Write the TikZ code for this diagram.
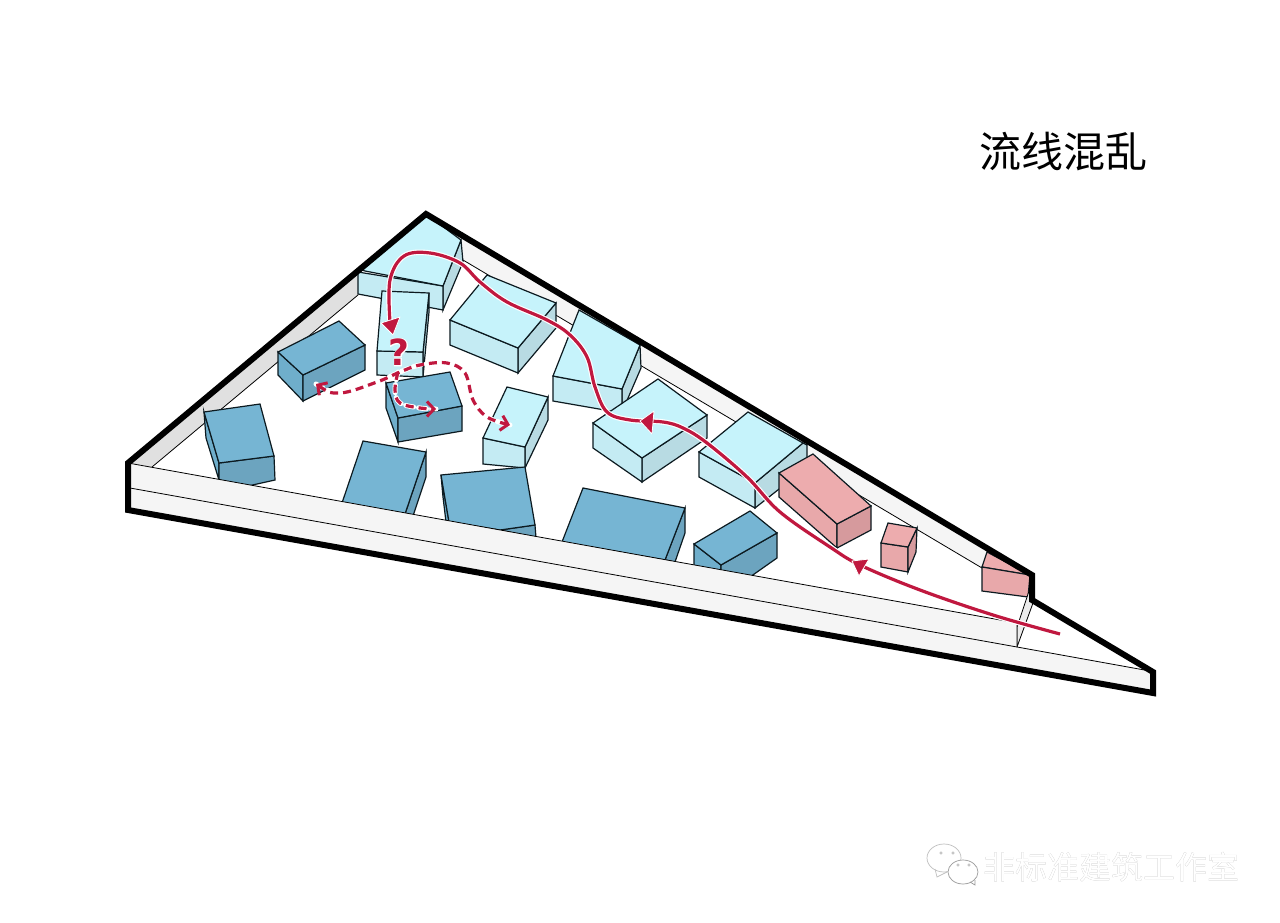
\documentclass[tikz,border=0pt]{standalone}
\usepackage{fontspec}
\usepackage{xcolor}
\usepackage{tikz}
\usetikzlibrary{arrows.meta}
\newfontfamily\cjkfont{Noto Sans CJK SC}
\setmainfont{DejaVu Sans}
\newfontfamily\halofont[FakeBold=5]{DejaVu Sans Bold}
\definecolor{lighttopc}{HTML}{C6F3FB}
\definecolor{lightfrontc}{HTML}{C4EBF3}
\definecolor{lightsidec}{HTML}{B8DBE3}
\definecolor{bluetopc}{HTML}{76B5D3}
\definecolor{bluefrontc}{HTML}{6FAECB}
\definecolor{bluesidec}{HTML}{6CA4BF}
\definecolor{pinktopc}{HTML}{EDACAE}
\definecolor{pinkfrontc}{HTML}{E8A8AA}
\definecolor{pinksidec}{HTML}{D69A9D}
\definecolor{routec}{HTML}{C0183F}
\definecolor{edgec}{HTML}{0C1A20}

\begin{document}
\begin{tikzpicture}[x=1pt, y=-1pt, line join=miter,
    face/.style={draw=edgec, line width=1.2pt},
    lighttop/.style={face, fill=lighttopc},
    lightfront/.style={face, fill=lightfrontc},
    lightside/.style={face, fill=lightsidec},
    bluetop/.style={face, fill=bluetopc},
    bluefront/.style={face, fill=bluefrontc},
    blueside/.style={face, fill=bluesidec},
    pinktop/.style={face, fill=pinktopc},
    pinkfront/.style={face, fill=pinkfrontc},
    pinkside/.style={face, fill=pinksidec},
    thinline/.style={draw=black, line width=0.8pt},
    halo/.style={draw=white, line width=5.5pt},
    route/.style={draw=routec, line width=3.2pt},
    dashhalo/.style={draw=white, line width=5pt, line cap=round, dash pattern=on 8pt off 5pt},
    dashroute/.style={draw=routec, line width=3.2pt, dash pattern=on 8pt off 5pt},
    barb/.style={-{Straight Barb[length=7pt,width=15pt,line width=3pt]}},
    twobarb/.style={{Straight Barb[length=7pt,width=15pt,line width=3pt]}-{Straight Barb[length=7pt,width=15pt,line width=3pt]}},
    headfill/.style={fill=routec, draw=white, line width=0.8pt, line join=round}]
    \useasboundingbox (0,0) rectangle (1280,923);
    \fill[white] (0,0) rectangle (1280,923);

    % draw site floor and back strips
    \fill[white] (128,463) -- (426,214) -- (1032,575) -- (1032,600) -- (1153,672) -- (1153,693) -- (128,510) -- cycle;
    \fill[fill=black!12] (128,463) -- (358,270) -- (358,295) -- (152,467) -- cycle;
    \draw[thinline] (358,295) -- (152,467);
    \fill[fill=black!4] (426,214) -- (1032,575) -- (982,568) -- (463,260) -- cycle;
    \draw[thinline] (463,260) -- (982,568);

    % draw light blue blocks
    \filldraw[lightside] (461,240) -- (463,262) -- (443,310) -- (443,286) -- cycle;
    \filldraw[lightfront] (358,272) -- (443,286) -- (443,310) -- (358,294) -- cycle;
    \filldraw[lighttop] (426,214) -- (461,240) -- (443,286) -- (365,271) -- (359,269) -- cycle;

    \filldraw[lightside] (429,293) -- (429,312) -- (423,377) -- (423,352) -- cycle;
    \filldraw[lightfront] (377,351) -- (423,352) -- (423,377) -- (377,375) -- cycle;
    \filldraw[lighttop] (382,291) -- (429,293) -- (423,352) -- (377,351) -- cycle;

    \filldraw[lightside] (556,303) -- (556,328) -- (518,373) -- (518,348) -- cycle;
    \filldraw[lightfront] (450,320) -- (518,348) -- (518,373) -- (450,345) -- cycle;
    \filldraw[lighttop] (487,275) -- (556,303) -- (518,348) -- (450,320) -- cycle;

    \filldraw[lightside] (640,345) -- (641,368) -- (622,412) -- (622,389) -- cycle;
    \filldraw[lightfront] (553,376) -- (622,389) -- (622,413) -- (553,401) -- cycle;
    \filldraw[lighttop] (579,310) -- (640,345) -- (622,389) -- (553,376) -- cycle;

    \filldraw[lightside] (707,415) -- (707,438) -- (642,482) -- (642,458) -- cycle;
    \filldraw[lightfront] (593,423) -- (642,458) -- (642,482) -- (593,448) -- cycle;
    \filldraw[lighttop] (658,379) -- (707,415) -- (642,458) -- (593,423) -- cycle;

    \filldraw[lightside] (803,443) -- (807,445) -- (807,467) -- (755,508) -- (755,483) -- cycle;
    \filldraw[lightfront] (699,452) -- (755,483) -- (755,508) -- (699,477) -- cycle;
    \filldraw[lighttop] (748,412) -- (803,443) -- (755,483) -- (699,452) -- cycle;

    \filldraw[lightside] (548,397) -- (548,420) -- (525,468) -- (525,447) -- cycle;
    \filldraw[lightfront] (483,438) -- (525,447) -- (525,468) -- (483,464) -- cycle;
    \filldraw[lighttop] (507,387) -- (548,397) -- (525,447) -- (483,438) -- cycle;

    % draw blue blocks
    \filldraw[bluefront] (278,352) -- (303,375) -- (303,401) -- (278,375) -- cycle;
    \filldraw[blueside] (365,345) -- (365,370) -- (303,401) -- (303,375) -- cycle;
    \filldraw[bluetop] (339,321) -- (365,345) -- (303,375) -- (278,352) -- cycle;

    \filldraw[bluefront] (386,383) -- (398,418) -- (398,442) -- (386,408) -- cycle;
    \filldraw[blueside] (462,406) -- (462,431) -- (398,442) -- (398,418) -- cycle;
    \filldraw[bluetop] (450,372) -- (462,406) -- (398,418) -- (386,383) -- cycle;

    \filldraw[bluefront] (204,412) -- (219,463) -- (219,480) -- (206,438) -- cycle;
    \filldraw[blueside] (219,463) -- (274,456) -- (275,480) -- (248,486) -- (219,480) -- cycle;
    \filldraw[bluetop] (260,404) -- (274,456) -- (219,463) -- (204,412) -- cycle;

    \filldraw[blueside] (426,452) -- (426,477) -- (413,516) -- (405,514) -- cycle;
    \filldraw[bluetop] (363,441) -- (426,452) -- (405,514) -- (342,503) -- cycle;

    \filldraw[bluefront] (441,475) -- (443,497) -- (446,522) -- (449,522) -- cycle;
    \filldraw[blueside] (500,530) -- (535,525) -- (536,538) -- cycle;
    \filldraw[bluetop] (441,475) -- (525,467) -- (535,525) -- (500,530) -- (449,522) -- cycle;

    \filldraw[blueside] (685,508) -- (685,533) -- (675,562) -- (665,560) -- cycle;
    \filldraw[bluetop] (583,488) -- (685,508) -- (665,560) -- (562,542) -- cycle;

    \filldraw[bluefront] (694,544) -- (721,565) -- (721,571) -- (694,566) -- cycle;
    \filldraw[blueside] (777,533) -- (777,558) -- (750,577) -- (721,571) -- (721,565) -- cycle;
    \filldraw[bluetop] (750,511) -- (777,533) -- (721,565) -- (694,544) -- cycle;

    % draw pink blocks
    \filldraw[pinkfront] (779,473) -- (837,524) -- (837,548) -- (779,497) -- cycle;
    \filldraw[pinkside] (871,506) -- (871,530) -- (837,548) -- (837,524) -- cycle;
    \filldraw[pinktop] (813,454) -- (871,506) -- (837,524) -- (779,473) -- cycle;

    \filldraw[pinkfront] (881,543) -- (908,547) -- (908,572) -- (881,567) -- cycle;
    \filldraw[pinkside] (917,528) -- (916,552) -- (908,572) -- (908,547) -- cycle;
    \filldraw[pinktop] (888,523) -- (917,528) -- (908,547) -- (881,543) -- cycle;

    \filldraw[pinktop] (987,552) -- (1030,575) -- (982,567) -- cycle;
    \filldraw[pinkfront] (982,567) -- (1030,575) -- (1028,597) -- (982,591) -- cycle;

    % draw front wall and notch wall
    \filldraw[fill=black!8, thinline] (1017,627) -- (1030,588) -- (1033,603) -- (1017,647) -- cycle;
    \fill[fill=black!4] (128,463) -- (1017,623) -- (1017,647) -- (1153,671) -- (1153,693) -- (128,510) -- cycle;
    \draw[thinline] (128,463) -- (1017,623) -- (1017,647);
    \draw[thinline] (130,488) -- (1017,647) -- (1150,671);

    % draw outer boundary
    \draw[line width=6pt] (128,463) -- (426,214) -- (1032,575) -- (1032,600) -- (1153,672) -- (1153,693) -- (128,510) -- cycle;

    % draw main route
    \draw[halo] plot[smooth, tension=0.6] coordinates {(1060,634) (993,615) (920,590) (860,565) (830,547) (780,512) (747,477) (707,443) (683,428) (663,422) (630,420) (607,412) (595,387) (587,357) (570,335) (547,320) (507,302) (480,282) (460,263) (430,253) (404,256) (390,280) (390,322)};
    \draw[route] plot[smooth, tension=0.6] coordinates {(1060,634) (993,615) (920,590) (860,565) (830,547) (780,512) (747,477) (707,443) (683,428) (663,422) (630,420) (607,412) (595,387) (587,357) (570,335) (547,320) (507,302) (480,282) (460,263) (430,253) (404,256) (390,280) (390,322)};
    \filldraw[headfill] (640,421) -- (654,411) -- (652,434) -- cycle;
    \filldraw[headfill] (852,561) -- (869,559) -- (859,576) -- cycle;
    \filldraw[headfill] (381,323) -- (400,317) -- (393,335) -- cycle;

    % draw dashed routes
    \draw[dashhalo] plot[smooth, tension=0.6] coordinates {(316,384) (340,393) (377,382) (400,372) (420,365) (447,363) (465,373) (473,400) (487,417) (510,425)};
    \draw[dashhalo] plot[smooth, tension=0.6] coordinates {(398,372) (395,390) (400,403) (420,408) (436,409)};
    \draw[dashroute, twobarb] plot[smooth, tension=0.6] coordinates {(316,384) (340,393) (377,382) (400,372) (420,365) (447,363) (465,373) (473,400) (487,417) (510,425)};
    \draw[dashroute, barb] plot[smooth, tension=0.6] coordinates {(398,372) (395,390) (400,403) (420,408) (436,409)};

    % draw question mark
    \node[text=white, font=\halofont\fontsize{36}{36}\selectfont] (questionhalo) at (399,352) {?};
    \node[text=routec, font=\fontsize{36}{36}\selectfont\bfseries] (question) at (399,352) {?};

    % draw title
    \node[font=\cjkfont\fontsize{42}{42}\selectfont, inner sep=0pt] (title) at (1063,152) {流线混乱};

    % draw watermark
    \filldraw[fill=white, draw=black!25, line width=0.7pt] (944,858) ellipse (17 and 14);
    \draw[black!25, line width=0.7pt] (935,869) -- (937,877) -- (947,872);
    \filldraw[fill=white, draw=black!40, line width=0.7pt] (963,872) ellipse (15 and 12);
    \draw[black!40, line width=0.7pt] (970,882) -- (975,885) -- (975,880);
    \foreach \eyex/\eyey in {941/853, 953/853, 958/865, 969/865}
        \draw[black!30, line width=0.6pt] (\eyex,\eyey) circle (1.3);
    \node[text=black!35, font=\cjkfont\fontsize{32}{32}\selectfont, inner sep=0pt] (markshadow) at (1111.6,867.6) {非标准建筑工作室};
    \node[text=white, font=\cjkfont\fontsize{32}{32}\selectfont, inner sep=0pt] (mark) at (1111,867) {非标准建筑工作室};
\end{tikzpicture}
\end{document}
